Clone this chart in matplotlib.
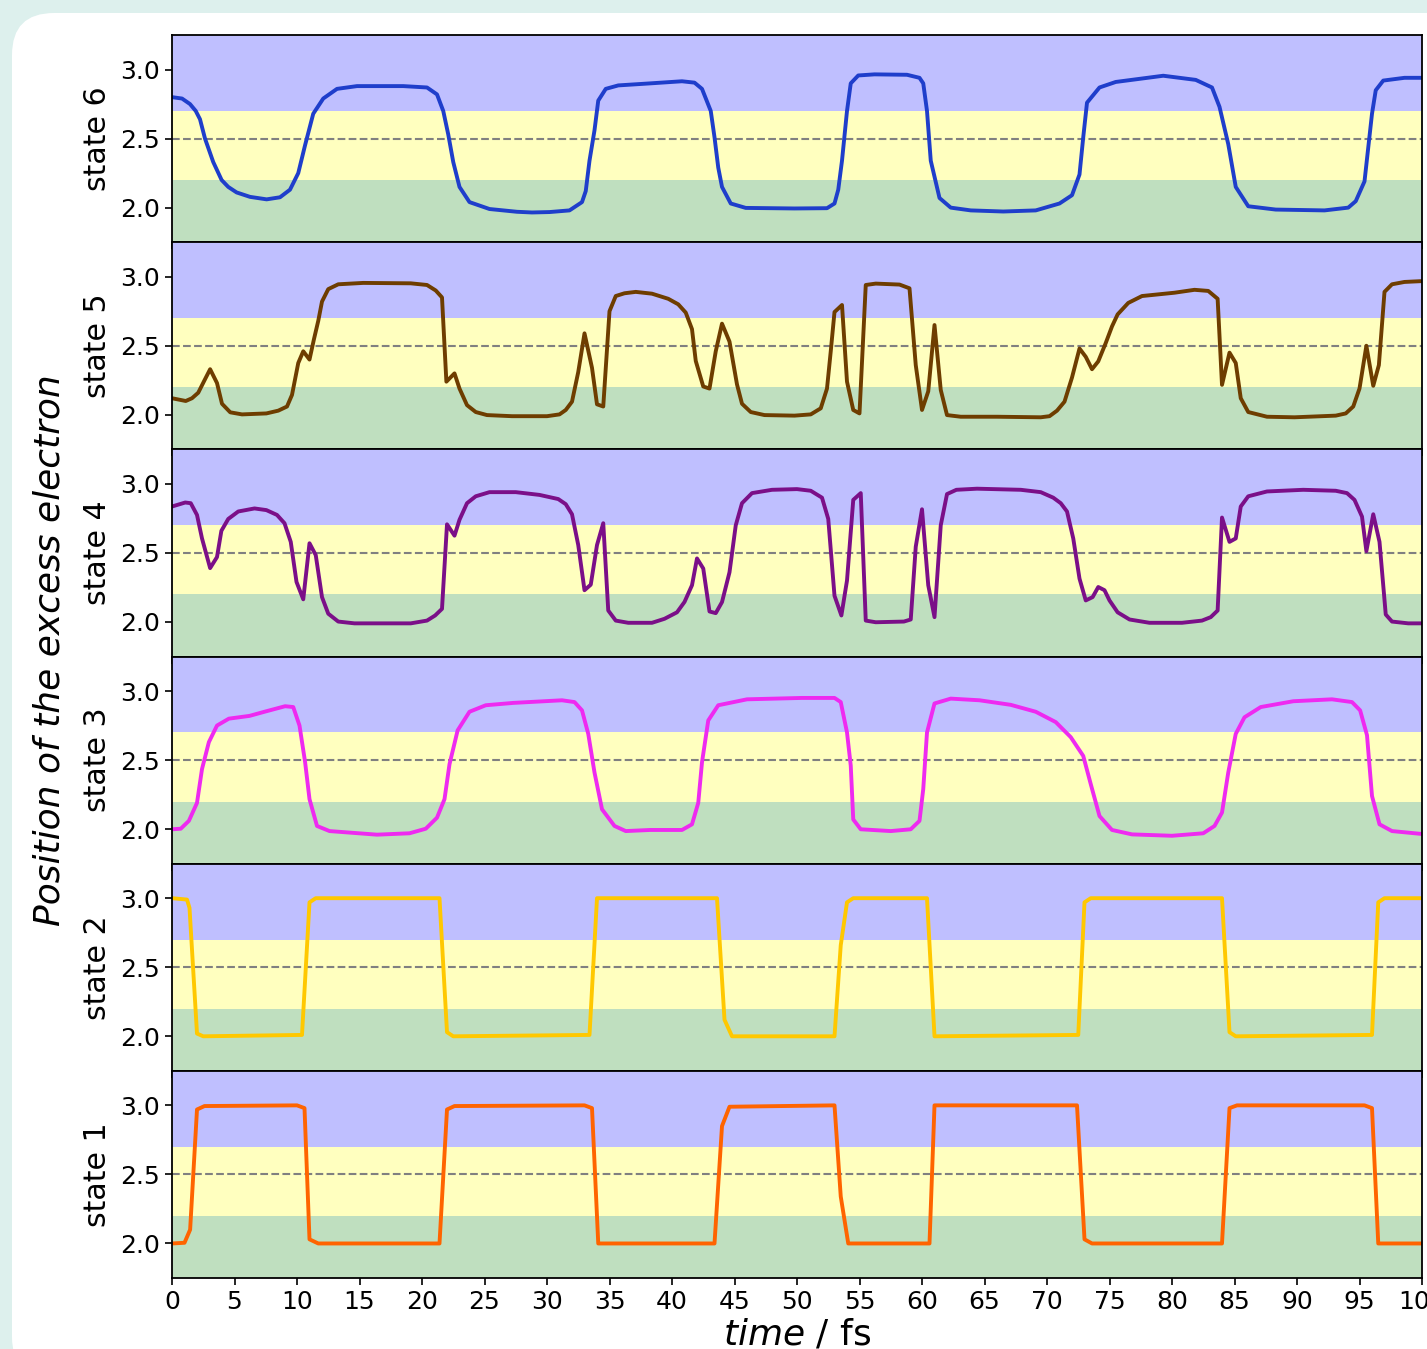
import matplotlib
matplotlib.use("Agg")
import matplotlib.pyplot as plt
from matplotlib.patches import FancyBboxPatch, Rectangle

# ---------------- data ----------------
t6 = [0, 0.8, 1.44, 1.9, 2.24, 2.64, 3.3, 3.97, 4.5, 5.17, 6.24, 7.57, 8.64, 9.44, 10.1, 10.64, 11.3, 12.1,
      13.2, 14.8, 18.5, 20.4, 21.2, 21.7, 22.1, 22.5, 23.0, 23.8, 25.4, 27.6, 28.8, 30.2, 31.8, 32.8, 33.1,
      33.4, 33.8, 34.1, 34.7, 35.7, 38.3, 40.8, 41.8, 42.4, 43.1, 43.4, 43.7, 44.0, 44.7, 45.9, 49.8, 52.4,
      53.0, 53.3, 53.6, 54.0, 54.3, 54.9, 56.2, 58.8, 59.8, 60.1, 60.4, 60.7, 61.4, 62.3, 63.9, 66.5, 69.1,
      71.0, 72.0, 72.6, 72.9, 73.2, 74.2, 75.5, 79.3, 81.9, 83.2, 83.8, 84.5, 85.1, 86.1, 88.3, 92.2,
      94.1, 94.7, 95.4, 96.0, 96.3, 96.9, 98.6, 100]
y6 = [2.80, 2.79, 2.75, 2.70, 2.64, 2.50, 2.33, 2.20, 2.15, 2.11, 2.078, 2.06, 2.075, 2.13, 2.25, 2.45, 2.68,
      2.79, 2.86, 2.88, 2.88, 2.87, 2.82, 2.70, 2.53, 2.33, 2.15, 2.04, 1.99, 1.97, 1.965, 1.968, 1.98, 2.04,
      2.12, 2.34, 2.56, 2.775, 2.86, 2.885, 2.90, 2.915, 2.905, 2.86, 2.70, 2.51, 2.29, 2.15, 2.03, 1.998,
      1.994, 1.996, 2.03, 2.13, 2.34, 2.70, 2.90, 2.957, 2.965, 2.962, 2.94, 2.90, 2.70, 2.34, 2.07, 2.00,
      1.98, 1.972, 1.98, 2.03, 2.09, 2.24, 2.51, 2.76, 2.87, 2.91, 2.955, 2.925, 2.87, 2.73, 2.46, 2.15,
      2.01, 1.986, 1.98, 2.00, 2.047, 2.19, 2.68, 2.85, 2.92, 2.94, 2.94]

t5 = [0, 1.1, 1.6, 2.1, 2.6, 3.05, 3.6, 4.0, 4.66, 5.6, 7.55, 8.5, 9.2, 9.6, 10.1, 10.5, 11.0, 11.35, 11.7,
      12.0, 12.5, 13.3, 15.3, 19.1, 20.4, 21.1, 21.6, 21.95, 22.6, 23.0, 23.6, 24.3, 25.2, 27.2, 30.0, 31.0,
      31.5, 32.0, 32.5, 33.0, 33.6, 34.0, 34.5, 35.0, 35.5, 36.2, 37.1, 38.4, 39.7, 40.5, 41.1, 41.6, 41.9,
      42.5, 43.0, 43.5, 44.0, 44.6, 45.2, 45.6, 46.3, 47.4, 49.8, 51.1, 51.9, 52.4, 52.7, 53.0, 53.6, 54.0,
      54.5, 55.0, 55.5, 56.3, 58.2, 59.0, 59.5, 60.0, 60.5, 61.0, 61.5, 62.0, 63.1, 66.0, 69.5, 70.2, 70.8,
      71.4, 72.0, 72.6, 73.1, 73.6, 74.1, 74.7, 75.2, 75.65, 76.5, 77.6, 80.2, 81.8, 82.9, 83.65, 84.0,
      84.6, 85.1, 85.5, 86.1, 87.6, 89.8, 93.1, 93.9, 94.5, 95.0, 95.55, 96.1, 96.55, 97.0, 97.6, 98.6, 100]
y5 = [2.12, 2.10, 2.12, 2.16, 2.25, 2.33, 2.23, 2.08, 2.018, 2.003, 2.01, 2.03, 2.06, 2.144, 2.375, 2.46,
      2.40, 2.545, 2.68, 2.82, 2.91, 2.945, 2.955, 2.952, 2.94, 2.90, 2.85, 2.24, 2.30, 2.19, 2.07, 2.02,
      1.998, 1.99, 1.99, 2.003, 2.035, 2.095, 2.31, 2.59, 2.34, 2.076, 2.06, 2.75, 2.86, 2.88, 2.89, 2.877,
      2.84, 2.80, 2.74, 2.62, 2.39, 2.205, 2.19, 2.46, 2.66, 2.53, 2.22, 2.08, 2.02, 1.998, 1.994, 2.003,
      2.047, 2.19, 2.46, 2.744, 2.795, 2.24, 2.035, 2.01, 2.94, 2.95, 2.943, 2.916, 2.36, 2.035, 2.17, 2.65,
      2.18, 1.998, 1.986, 1.986, 1.982, 1.99, 2.03, 2.095, 2.27, 2.48, 2.42, 2.33, 2.387, 2.52, 2.64,
      2.727, 2.81, 2.86, 2.884, 2.905, 2.897, 2.84, 2.217, 2.45, 2.375, 2.12, 2.02, 1.986, 1.982, 1.994,
      2.01, 2.06, 2.19, 2.50, 2.21, 2.36, 2.89, 2.945, 2.962, 2.968]

t4 = [0, 1.06, 1.5, 2.0, 2.4, 3.05, 3.6, 3.95, 4.5, 5.3, 6.6, 7.55, 8.4, 9.0, 9.5, 9.96, 10.5, 11.0, 11.5,
      12.0, 12.5, 13.3, 14.6, 19.1, 20.4, 21.05, 21.6, 22.0, 22.6, 23.0, 23.6, 24.3, 25.4, 27.5, 29.4, 30.9,
      31.5, 32.0, 32.5, 33.0, 33.5, 34.0, 34.5, 34.9, 35.5, 36.5, 38.4, 39.4, 40.4, 41.0, 41.6, 42.0, 42.5,
      43.0, 43.5, 44.0, 44.6, 45.1, 45.6, 46.4, 48.0, 50.0, 51.1, 52.0, 52.5, 53.0, 53.55, 54.0, 54.5,
      55.1, 55.5, 56.3, 58.55, 59.1, 59.5, 60.0, 60.5, 61.0, 61.5, 62.0, 62.75, 64.4, 67.9, 69.5, 70.5,
      71.1, 71.6, 72.1, 72.6, 73.1, 73.65, 74.1, 74.6, 75.0, 75.65, 76.6, 78.2, 80.8, 82.4, 83.1, 83.65,
      84.0, 84.6, 85.1, 85.5, 86.1, 87.6, 90.5, 93.1, 94.0, 94.6, 95.2, 95.55, 96.1, 96.6, 97.1, 97.6,
      98.9, 100]
y4 = [2.836, 2.865, 2.86, 2.775, 2.605, 2.39, 2.47, 2.66, 2.746, 2.80, 2.822, 2.81, 2.775, 2.715, 2.58,
      2.29, 2.164, 2.57, 2.484, 2.18, 2.06, 2.003, 1.99, 1.99, 2.01, 2.047, 2.095, 2.707, 2.625, 2.74,
      2.86, 2.91, 2.94, 2.94, 2.92, 2.89, 2.853, 2.78, 2.557, 2.23, 2.27, 2.557, 2.715, 2.083, 2.01, 1.994,
      1.994, 2.023, 2.07, 2.145, 2.266, 2.46, 2.387, 2.076, 2.064, 2.144, 2.36, 2.70, 2.86, 2.933, 2.957,
      2.962, 2.95, 2.90, 2.746, 2.19, 2.047, 2.30, 2.884, 2.933, 2.01, 1.998, 2.003, 2.018, 2.545, 2.816,
      2.266, 2.035, 2.70, 2.926, 2.957, 2.965, 2.957, 2.94, 2.90, 2.86, 2.80, 2.605, 2.314, 2.156, 2.18,
      2.253, 2.23, 2.156, 2.07, 2.018, 1.994, 1.994, 2.01, 2.035, 2.083, 2.756, 2.58, 2.605, 2.836, 2.91,
      2.945, 2.957, 2.95, 2.933, 2.884, 2.763, 2.513, 2.78, 2.58, 2.054, 2.003, 1.99, 1.99]

t3 = [0, 0.7, 1.35, 2.0, 2.4, 2.95, 3.6, 4.55, 6.2, 7.4, 9.05, 9.7, 10.2, 10.65, 11.0, 11.6, 12.6, 16.4,
      19.0, 20.3, 21.2, 21.8, 22.2, 22.85, 23.8, 25.1, 27.3, 31.2, 32.2, 32.8, 33.3, 33.8, 34.4, 35.4,
      36.3, 38.25, 40.8, 41.6, 42.1, 42.4, 42.9, 43.7, 46.0, 50.4, 53.0, 53.5, 54.0, 54.3, 54.5, 55.1,
      57.5, 59.1, 59.8, 60.1, 60.4, 61.0, 62.3, 64.6, 67.1, 69.1, 70.7, 71.9, 72.9, 73.5, 74.2, 75.2,
      76.8, 80.0, 82.5, 83.4, 84.0, 84.5, 85.1, 85.8, 87.1, 89.7, 92.8, 94.4, 95.05, 95.6, 96.0, 96.6,
      97.6, 100]
y3 = [1.999, 2.003, 2.06, 2.19, 2.435, 2.63, 2.75, 2.80, 2.82, 2.85, 2.89, 2.884, 2.75, 2.484, 2.217,
      2.023, 1.986, 1.96, 1.97, 2.003, 2.083, 2.217, 2.47, 2.715, 2.85, 2.897, 2.914, 2.933, 2.92, 2.86,
      2.69, 2.41, 2.144, 2.023, 1.986, 1.994, 1.994, 2.035, 2.19, 2.484, 2.787, 2.897, 2.94, 2.95, 2.95,
      2.92, 2.70, 2.46, 2.07, 1.999, 1.986, 1.999, 2.06, 2.29, 2.70, 2.91, 2.945, 2.933, 2.90, 2.85, 2.775,
      2.666, 2.53, 2.326, 2.095, 1.994, 1.962, 1.952, 1.97, 2.023, 2.12, 2.41, 2.69, 2.81, 2.884, 2.926,
      2.94, 2.92, 2.86, 2.68, 2.24, 2.035, 1.986, 1.965]

t2 = [0, 1.2, 1.4, 2.0, 2.5, 10.4, 11.0, 11.5, 21.4, 22.0, 22.5, 33.4, 34.0, 43.6, 44.2, 44.8, 53.0,
      53.5, 54.0, 54.5, 60.4, 61.0, 72.5, 73.0, 73.5, 84.0, 84.6, 85.1, 96.0, 96.5, 97.0, 100]
y2 = [3.0, 2.99, 2.93, 2.02, 2.0, 2.01, 2.97, 3.0, 3.0, 2.03, 2.0, 2.01, 3.0, 3.0, 2.12, 2.0, 2.0,
      2.66, 2.97, 3.0, 3.0, 2.0, 2.01, 2.97, 3.0, 3.0, 2.03, 2.0, 2.01, 2.97, 3.0, 3.0]

t1 = [0, 1.0, 1.45, 2.0, 2.6, 10.0, 10.6, 11.0, 11.7, 21.4, 22.0, 22.6, 33.0, 33.6, 34.1, 43.4, 44.0,
      44.6, 53.0, 53.5, 54.1, 60.6, 61.0, 72.4, 73.0, 73.6, 84.0, 84.6, 85.2, 95.4, 96.0, 96.5, 100]
y1 = [2.0, 2.005, 2.1, 2.97, 2.995, 3.0, 2.98, 2.03, 2.0, 2.0, 2.97, 2.995, 3.0, 2.98, 2.0, 2.0, 2.85,
      2.99, 3.0, 2.34, 2.0, 2.0, 3.0, 3.0, 2.03, 2.0, 2.0, 2.98, 3.0, 3.0, 2.98, 2.0, 2.0]

state_names = ["state 6", "state 5", "state 4", "state 3", "state 2", "state 1"]
series_t = [t6, t5, t4, t3, t2, t1]
series_y = [y6, y5, y4, y3, y2, y1]
line_colors = ["#1f3ecb", "#6e3d00", "#7b0f88", "#ee2af0", "#ffc800", "#ff6400"]
x_ticks = list(range(0, 101, 5))
y_ticks = [2.0, 2.5, 3.0]

# ---------------- figure ----------------
W, H = 1427, 1349
fig = plt.figure(figsize=(W / 100, H / 100), dpi=100)
fig.patch.set_facecolor("#ddf0ed")
bg = FancyBboxPatch((12, -30), 1600, H - 13 + 30, boxstyle="round,pad=0,rounding_size=42",
                    transform=None, facecolor="white", edgecolor="none", zorder=0)
fig.add_artist(bg)
notch = Rectangle((25, 0), 1600, H - 25, transform=None, facecolor="white",
                  edgecolor="none", zorder=0)
fig.add_artist(notch)

axes = fig.subplots(6, 1, sharex=True)
fig.subplots_adjust(left=172 / W, right=1422 / W, top=1 - 35 / H, bottom=1 - 1278 / H, hspace=0)

for ax, name, tt, yy, c in zip(axes, state_names, series_t, series_y, line_colors):
    ax.set_facecolor("white")
    ax.axhspan(2.7, 3.25, color="blue", alpha=0.25, lw=0, zorder=0)
    ax.axhspan(2.2, 2.7, color="yellow", alpha=0.25, lw=0, zorder=0)
    ax.axhspan(1.75, 2.2, color="green", alpha=0.25, lw=0, zorder=0)
    ax.axhline(2.5, color="gray", ls="--", lw=1.5, zorder=1)
    ax.plot(tt, yy, color=c, lw=2.8, zorder=2)
    ax.set_ylim(1.75, 3.25)
    ax.set_xlim(0, 100)
    ax.set_yticks(y_ticks)
    ax.set_yticklabels([f"{v:.1f}" for v in y_ticks])
    ax.set_ylabel(name, fontsize=21.6, labelpad=6)
    ax.tick_params(axis="both", labelsize=18, length=5, width=1.2)
    for sp in ax.spines.values():
        sp.set_linewidth(1.3)

axes[-1].set_xticks(x_ticks)
axes[-1].set_xticklabels([str(v) for v in x_ticks])

fig.text(50 / W, 1 - 650 / H, "Position of the excess electron", rotation=90, style="italic",
         fontsize=25.9, ha="center", va="center")
fig.text(797 / W, 1 - 1335 / H, r"$time$ / fs", fontsize=25.9, ha="center", va="center")

fig.savefig("out.png", dpi=100, facecolor=fig.get_facecolor())
